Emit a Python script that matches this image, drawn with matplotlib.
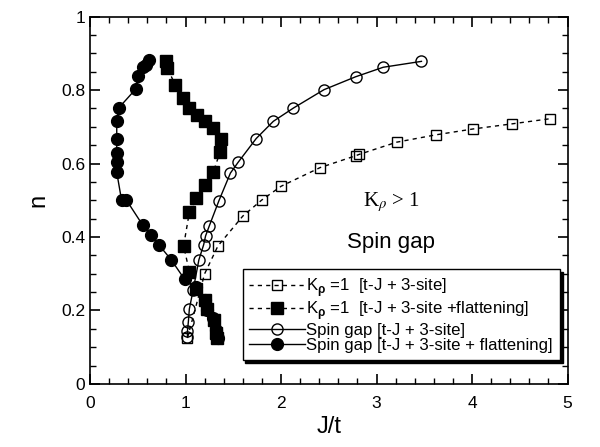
import matplotlib
matplotlib.use("Agg")
import matplotlib.pyplot as plt
from matplotlib.ticker import MultipleLocator

# K_rho = 1 [t-J + 3-site]  (open squares, dashed)
kr_open_x = [1.02, 1.20, 1.34, 1.60, 1.80, 2.00, 2.41, 2.78, 2.82, 3.21, 3.62, 4.01, 4.42, 4.82]
kr_open_n = [0.125, 0.300, 0.376, 0.457, 0.501, 0.538, 0.589, 0.621, 0.625, 0.658, 0.678, 0.694, 0.708, 0.722]

# K_rho = 1 [t-J + 3-site + flattening]  (filled squares, dashed)
kr_flat_x = [1.33, 1.32, 1.30, 1.23, 1.20, 1.11, 1.04, 0.98, 1.04, 1.11, 1.20, 1.29,
             1.36, 1.37, 1.29, 1.20, 1.12, 1.04, 0.97, 0.89, 0.81, 0.80]
kr_flat_n = [0.125, 0.138, 0.174, 0.204, 0.229, 0.258, 0.306, 0.376, 0.467, 0.506, 0.542, 0.576,
             0.630, 0.667, 0.697, 0.715, 0.733, 0.751, 0.778, 0.815, 0.860, 0.878]

# Spin gap [t-J + 3-site]  (open circles, solid)
sg_open_x = [1.02, 1.02, 1.03, 1.04, 1.08, 1.14, 1.19, 1.21, 1.25, 1.35, 1.47, 1.55,
             1.74, 1.92, 2.13, 2.45, 2.78, 3.07, 3.47]
sg_open_n = [0.129, 0.143, 0.170, 0.204, 0.256, 0.338, 0.379, 0.403, 0.431, 0.499, 0.574, 0.603,
             0.668, 0.715, 0.751, 0.801, 0.836, 0.862, 0.878]

# Spin gap [t-J + 3-site + flattening]  (filled circles, solid)
sg_flat_x = [1.34, 1.32, 1.29, 1.23, 1.20, 1.11, 0.99, 0.85, 0.72, 0.64, 0.55, 0.38, 0.33,
             0.28, 0.28, 0.28, 0.28, 0.28, 0.30, 0.48, 0.50, 0.56, 0.59, 0.62]
sg_flat_n = [0.125, 0.147, 0.179, 0.202, 0.229, 0.263, 0.285, 0.338, 0.379, 0.406, 0.433, 0.501, 0.501,
             0.576, 0.603, 0.629, 0.668, 0.717, 0.751, 0.803, 0.837, 0.863, 0.869, 0.881]

labels = [r"K$_\mathbf{\rho}$ =1  [t-J + 3-site]",
          r"K$_\mathbf{\rho}$ =1  [t-J + 3-site +flattening]",
          "Spin gap [t-J + 3-site]",
          "Spin gap [t-J + 3-site + flattening]"]

plt.rcParams['font.family'] = ['Liberation Sans', 'DejaVu Sans']
plt.rcParams['mathtext.fontset'] = 'custom'
plt.rcParams['mathtext.rm'] = 'Liberation Sans'
plt.rcParams['mathtext.bf'] = 'Liberation Sans:bold'

fig = plt.figure(figsize=(6, 4.47), dpi=100)
ax = fig.add_axes([0.15, 0.141, 0.796, 0.822])

ax.plot(kr_open_x, kr_open_n, color='k', lw=1, dashes=(3, 3), marker='s', ms=7,
        mfc='none', mec='k', mew=1, label=labels[0])
ax.plot(kr_flat_x, kr_flat_n, color='k', lw=1, dashes=(3, 3), marker='s', ms=8,
        mfc='k', mec='k', label=labels[1])
ax.plot(sg_open_x, sg_open_n, color='k', lw=1, marker='o', ms=8,
        mfc='none', mec='k', mew=1, label=labels[2])
ax.plot(sg_flat_x, sg_flat_n, color='k', lw=1, marker='o', ms=8.5,
        mfc='k', mec='k', label=labels[3])

ax.set_xlim(0, 5)
ax.set_ylim(0, 1)
ax.xaxis.set_major_locator(MultipleLocator(1))
ax.xaxis.set_minor_locator(MultipleLocator(0.2))
ax.yaxis.set_major_locator(MultipleLocator(0.2))
ax.yaxis.set_minor_locator(MultipleLocator(0.05))
ax.set_yticks([0, 0.2, 0.4, 0.6, 0.8, 1.0])
ax.set_yticklabels(["0", "0.2", "0.4", "0.6", "0.8", "1"])
ax.tick_params(which='both', direction='in', top=True, right=True, labelsize=12.5)
ax.tick_params(which='major', length=7, width=1.2)
ax.tick_params(which='minor', length=4, width=1)
ax.tick_params(axis='x', pad=9)
for s in ax.spines.values():
    s.set_linewidth(1.2)

ax.set_xlabel("J/t", fontsize=17, labelpad=3)
ax.set_ylabel("n", fontsize=17, labelpad=8)

ax.text(2.86, 0.495, r"K$_\rho$ > 1", fontsize=15, family='Liberation Serif',
        math_fontfamily='stix', va='center', ha='left')
ax.text(2.69, 0.384, "Spin gap", fontsize=16, va='center', ha='left')

leg = ax.legend(loc='upper left', bbox_to_anchor=(0.302, 0.335), fontsize=12.1,
                handlelength=3.3, handletextpad=0.1, labelspacing=0.03,
                borderpad=0.4, fancybox=False, framealpha=1, edgecolor='k',
                shadow={'color': 'k', 'alpha': 1})
leg.get_frame().set_linewidth(1)

plt.savefig("out.png", dpi=100)
plt.close()
